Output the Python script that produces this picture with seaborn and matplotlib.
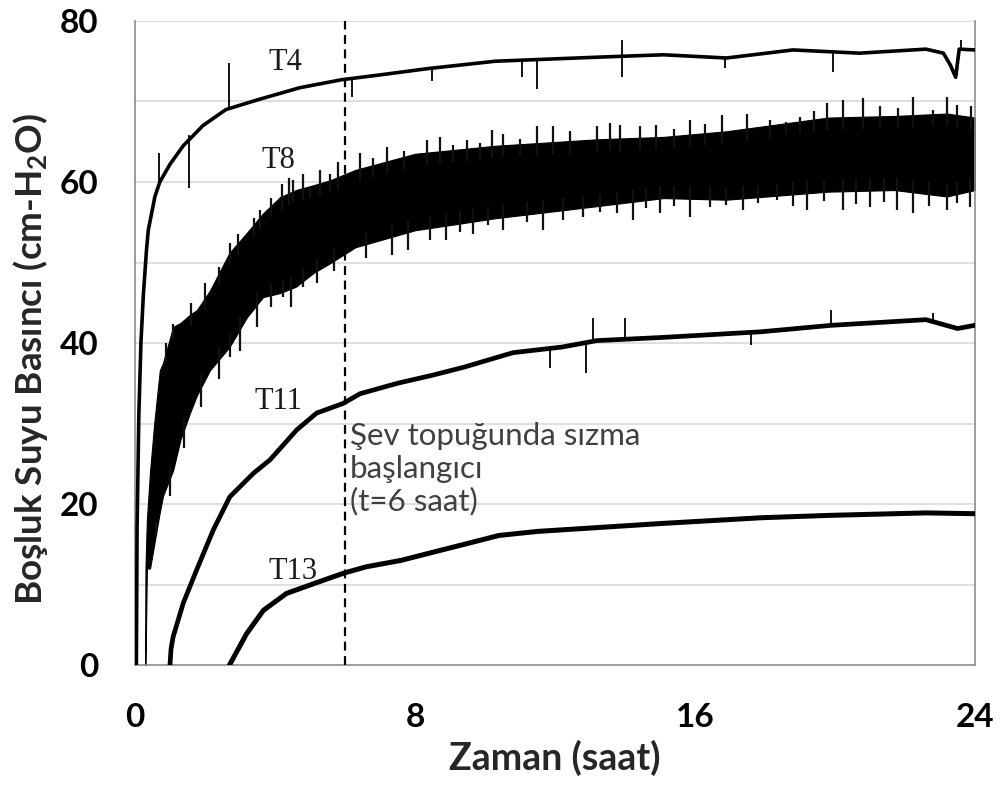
import numpy as np
import matplotlib
matplotlib.use("Agg")
import matplotlib.pyplot as plt
from matplotlib.ticker import MultipleLocator
import seaborn as sns

# --- values (time in hours, pressure in cm-H2O) ---
t4_t = [0.04, 0.06, 0.11, 0.17, 0.24, 0.33, 0.38, 0.57, 0.71, 1.0, 1.38, 1.94, 2.6, 3.5,
        4.7, 5.9, 7.0, 8.4, 10.3, 13.2, 15.1, 16.9, 18.8, 20.7, 22.6, 23.1, 23.3, 23.45,
        23.55, 24.0]
t4_v = [0, 17, 31, 40, 46, 51.6, 54, 58.2, 60, 62.2, 64.5, 67, 69, 70.2,
        71.7, 72.7, 73.3, 74.1, 75.0, 75.5, 75.8, 75.4, 76.4, 76.0, 76.5, 76.0, 74.5, 73.0,
        76.5, 76.4]
t4_spike_t = [0.69, 1.55, 1.55, 2.69, 6.19, 8.48, 11.05, 11.5, 13.92, 13.92, 16.86, 19.95, 23.6]
t4_spike_v = [63.6, 65.8, 59.2, 74.8, 70.6, 72.5, 73.1, 71.6, 77.6, 73.1, 74.1, 73.7, 77.6]

t8_t = [0.29, 0.30, 0.34, 0.43, 0.55, 0.71, 0.8, 1.09, 1.3, 1.57, 1.77, 2.14, 2.7, 3.2,
        3.66, 4.14, 4.6, 5.1, 5.57, 6.3, 8.0, 10.3, 13.2, 15.1, 16.9, 19.8, 21.7, 23.2, 24.0]
t8_lo = [0, 0, 12, 12, 15, 19, 21, 24.2, 28, 31.3, 33.5, 36.6, 39.5, 43.2,
         45.7, 46.2, 47, 48.7, 49.9, 51.9, 54.0, 55.5, 57.0, 58.0, 57.8, 58.8, 59.0, 58.2, 59.0]
t8_hi = [0, 12, 18, 24, 30, 36.6, 37.5, 42, 42.5, 43.5, 44.1, 46.5, 51.2, 53.7,
         56.1, 58.1, 59, 59.6, 60.2, 61.5, 63.5, 64.5, 65.3, 65.6, 66.3, 68.0, 68.2, 68.5, 68.0]
t8_up_t = [0.9, 1.1, 1.6, 2.0, 2.4, 2.71, 2.95, 3.4, 3.57, 3.9, 4.19, 4.4, 4.52, 4.8, 5.0,
           5.3, 5.57, 5.8, 6.43, 6.8, 7.19, 7.7, 8.33, 8.71, 9.1, 9.48, 9.85, 10.19,
           10.52, 11.0, 11.48, 11.95, 12.43, 13.19, 13.57, 13.86, 14.43, 14.9, 15.4, 15.86,
           16.3, 16.76, 17.48, 18.14, 18.6, 19.0, 19.4, 19.76, 20.24, 20.81, 21.29, 21.8,
           22.24, 22.81, 23.19, 23.5, 23.9]
t8_up_v = [40.0, 42.4, 45.0, 47.5, 49.5, 52.4, 53.5, 55.5, 56.5, 58.0, 59.8, 60.5, 60.2,
           61.0, 59.4, 61.5, 61.0, 62.5, 63.6, 63.0, 64.4, 63.8, 65.2, 65.6, 64.6, 65.2,
           64.8, 66.5, 66.0, 65.4, 66.9, 66.9, 66.3, 66.9, 67.3, 67.1, 66.9, 67.1, 66.6,
           67.7, 67.2, 68.3, 68.5, 67.7, 67.5, 68.1, 68.8, 69.8, 70.2, 70.4, 69.4, 69.2,
           70.6, 69.0, 70.6, 69.6, 69.4]
t8_dn_t = [0.6, 1.0, 1.4, 1.9, 2.4, 2.71, 3.0, 3.5, 3.9, 4.24, 4.45, 4.81, 5.2, 5.7,
           6.6, 7.33, 7.8, 8.43, 8.9, 9.3, 9.67, 10.1, 10.52, 11.2, 11.67, 12.24, 12.81,
           13.3, 13.76, 14.24, 14.6, 15.0, 15.4, 15.86, 16.43, 16.9, 17.38, 17.8, 18.33,
           18.8, 19.19, 19.7, 20.24, 20.6, 21.0, 21.4, 21.76, 22.24, 22.7, 23.19, 23.5,
           23.86]
t8_dn_v = [16.0, 21.0, 27.0, 32.0, 35.5, 38.3, 39.0, 42.0, 44.5, 45.7, 44.5, 47.0, 47.5,
           49.0, 50.5, 50.9, 51.5, 52.8, 52.8, 53.8, 53.6, 54.6, 54.0, 55.0, 54.0, 55.3,
           55.7, 56.3, 56.1, 55.3, 56.8, 56.1, 57.0, 55.7, 56.9, 57.2, 56.5, 57.4, 57.8,
           57.0, 56.5, 57.6, 56.5, 57.3, 56.9, 57.5, 56.5, 56.1, 57.0, 56.5, 57.4, 56.9]

t11_t = [1.0, 1.03, 1.09, 1.38, 1.76, 2.24, 2.71, 3.38, 3.86, 4.62, 5.19, 5.95, 6.43,
         7.5, 8.5, 9.4, 10.8, 12.2, 13.2, 15.1, 17.9, 19.9, 22.6, 23.5, 24.0]
t11_v = [0, 2, 3.5, 7.7, 11.8, 16.8, 20.9, 23.8, 25.5, 29.2, 31.3, 32.5, 33.7,
         35.0, 36.0, 37.0, 38.8, 39.5, 40.3, 40.7, 41.4, 42.2, 42.9, 41.8, 42.2]
t11_spike_t = [11.86, 12.9, 13.1, 14.0, 17.6, 19.9, 22.8]
t11_spike_v = [36.9, 36.3, 43.1, 43.1, 39.8, 44.1, 43.7]

t13_t = [2.7, 2.85, 3.19, 3.67, 4.33, 5.1, 5.95, 6.6, 7.6, 8.5, 9.5, 10.4, 11.5, 13.3,
         15.1, 17.9, 19.9, 22.6, 24.0]
t13_v = [0, 1.2, 3.9, 6.8, 8.9, 10.1, 11.4, 12.2, 13.0, 14.0, 15.1, 16.1, 16.6, 17.1,
         17.6, 18.3, 18.6, 18.9, 18.8]

x_ticks = [0, 8, 16, 24]
y_ticks = [0, 20, 40, 60, 80]
seep_time = 6
curve_labels = ["T4", "T8", "T11", "T13"]
label_pos = [(4.29, 74.9), (4.09, 62.7), (4.11, 32.7), (4.51, 11.6)]

sns.set_style("white")
plt.rcParams["font.family"] = ["Lato", "DejaVu Sans"]
plt.rcParams["mathtext.fontset"] = "custom"
plt.rcParams["mathtext.rm"] = "Lato:bold"
plt.rcParams["mathtext.it"] = "Lato:bold"
plt.rcParams["mathtext.bf"] = "Lato:bold"

fig = plt.figure(figsize=(10.02, 7.88), dpi=100)
ax = fig.add_axes([0.1347, 0.156, 0.8383, 0.8174])

grey = "#8c8c8c"
for y in range(10, 90, 10):
    ax.axhline(y, color="#d9d9d9", lw=1.2, zorder=0)

# T8: dense noisy band + spikes
ax.fill_between(t8_t, t8_lo, t8_hi, color="black", lw=0.8, zorder=2)
base_up = np.interp(t8_up_t, t8_t, t8_hi)
base_dn = np.interp(t8_dn_t, t8_t, t8_lo)
ax.vlines(t8_up_t, base_up - 1.5, t8_up_v, color="#111111", lw=1.6, zorder=2)
ax.vlines(t8_dn_t, t8_dn_v, base_dn + 1.5, color="#111111", lw=1.6, zorder=2)

# thinner records
sns.lineplot(x=t4_t, y=t4_v, ax=ax, color="black", lw=2.6, sort=False, zorder=3)
sns.lineplot(x=t11_t, y=t11_v, ax=ax, color="black", lw=3.4, sort=False, zorder=3)
sns.lineplot(x=t13_t, y=t13_v, ax=ax, color="black", lw=3.6, sort=False, zorder=3)

ax.vlines(t4_spike_t, np.interp(t4_spike_t, t4_t, t4_v), t4_spike_v, color="black", lw=1.3, zorder=3)
ax.vlines(t11_spike_t, np.interp(t11_spike_t, t11_t, t11_v), t11_spike_v, color="black", lw=1.3, zorder=3)

ax.axvline(seep_time, color="black", ls=(0, (4, 2.5)), lw=1.6, zorder=4)

for name, (tx, ty) in zip(curve_labels, label_pos):
    ax.text(tx, ty, name, ha="center", va="center", fontsize=22,
            family="Liberation Serif", color="#1a1a1a", zorder=5)

ax.text(6.15, 30.2, "Şev topuğunda sızma\nbaşlangıcı\n(t=6 saat)", ha="left", va="top",
        fontsize=22.5, color="#404040", linespacing=1.2, zorder=5)

ax.set_xlim(0, 24)
ax.set_ylim(0, 80)
ax.set_xticks(x_ticks)
ax.set_yticks(y_ticks)
ax.xaxis.set_minor_locator(MultipleLocator(2))
ax.yaxis.set_minor_locator(MultipleLocator(10))
ax.tick_params(axis="both", which="major", direction="inout", length=16, width=1.2,
               color=grey, labelsize=24, labelcolor="black")
ax.tick_params(axis="x", which="major", pad=19)
ax.tick_params(axis="y", which="major", pad=18)
ax.tick_params(axis="both", which="minor", direction="in", length=6, width=1.2, color=grey)
for lab in ax.get_xticklabels() + ax.get_yticklabels():
    lab.set_fontweight("bold")

for side in ["left", "bottom", "right"]:
    ax.spines[side].set_color(grey)
    ax.spines[side].set_linewidth(1.2)
ax.spines["top"].set_visible(False)

ax.set_xlabel("Zaman (saat)", fontsize=27, fontweight="bold", labelpad=6)
ax.set_ylabel(r"Boşluk Suyu Basıncı (cm-H$_2$O)", fontsize=26.5, fontweight="bold")
ax.yaxis.set_label_coords(-0.101, 0.475)

fig.savefig("out.png", dpi=100)
